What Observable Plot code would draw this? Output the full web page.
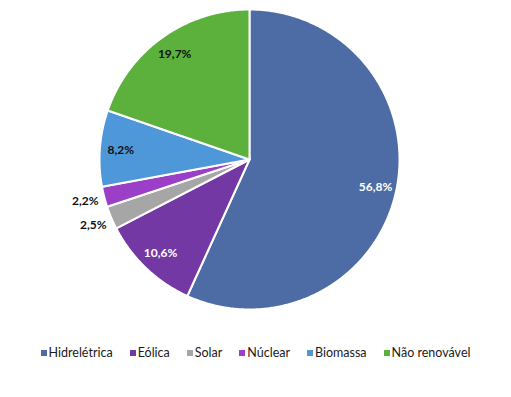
<!DOCTYPE html>
<html><head><meta charset="utf-8">
<script src="https://cdn.jsdelivr.net/npm/d3@7"></script>
<script src="https://cdn.jsdelivr.net/npm/@observablehq/plot@0.6"></script>
<style>
body{margin:0;background:#fff;font-family:Lato,"Open Sans",sans-serif;}
#chart{width:511px;}
.lg-swatches{justify-content:center;font-family:Lato,sans-serif !important;font-size:12.5px !important;color:#1a1a1a;margin:15px 0 0 0 !important;min-height:0 !important;}
.lg-swatch{margin-right:17px !important;}
.lg-swatch:last-child{margin-right:0 !important;}
.lg-swatch > svg{margin-right:2px !important;}
</style>
</head><body><div id="chart"></div>
<script>
const categories = ["Hidrelétrica","Eólica","Solar","Núclear","Biomassa","Não renovável"];
const values = [56.8, 10.6, 2.5, 2.2, 8.2, 19.7];
const colors = ["#4d6ca6","#7338a4","#a6a6a6","#9b3fc8","#4e98da","#5cb03c"];

const total = d3.sum(values);
const pts = [];
const labels = [];
let acc = 0;
categories.forEach((name, i) => {
  const a0 = acc / total * 2 * Math.PI;
  acc += values[i];
  const a1 = acc / total * 2 * Math.PI;
  pts.push({name, x: 0, y: 0});
  const n = Math.max(2, Math.ceil((a1 - a0) / (Math.PI / 360)));
  for (let k = 0; k <= n; k++) {
    const a = a0 + (a1 - a0) * k / n;
    pts.push({name, x: Math.sin(a), y: Math.cos(a)});
  }
  const am = (a0 + a1) / 2;
  const r = values[i] < 5 ? 1.13 : 0.86;
  labels.push({
    name,
    x: Math.sin(am) * r,
    y: Math.cos(am) * r,
    text: values[i].toFixed(1).replace(".", ",") + "%",
    fill: values[i] < 5 ? "#111" : (d3.lab(colors[i]).l < 55 ? "#fff" : "#111")
  });
});

const colorScale = {domain: categories, range: colors};

const chart = Plot.plot({
  width: 511,
  height: 330,
  marginLeft: 99,
  marginRight: 112,
  marginTop: 9,
  marginBottom: 21,
  x: {domain: [-1, 1], axis: null},
  y: {domain: [-1, 1], axis: null},
  color: colorScale,
  style: {background: "#fff", overflow: "visible"},
  marks: [
    Plot.line(pts, {x: "x", y: "y", z: "name", fill: "name", stroke: "white", strokeWidth: 2, strokeLinejoin: "round", curve: "linear-closed"}),
    Plot.text(labels, {x: "x", y: "y", text: "text", fill: "fill", fontSize: 12, fontWeight: "bold", fontFamily: "Lato, sans-serif"})
  ]
});

const legend = Plot.legend({color: {...colorScale, type: "ordinal"}, swatchSize: 6, className: "lg"});
document.getElementById("chart").append(chart, legend);
</script>
</body></html>
